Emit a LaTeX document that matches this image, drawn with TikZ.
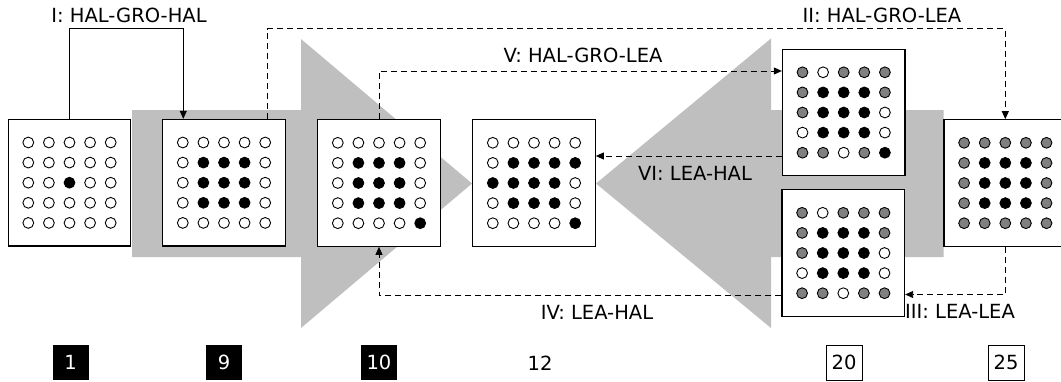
\documentclass[tikz,border=0pt]{standalone}
\usepackage{fontspec}
\setmainfont{DejaVu Sans}
\usetikzlibrary{arrows.meta,calc}
\definecolor{bgarrow}{gray}{0.75}
\definecolor{cW}{gray}{1}
\definecolor{cB}{gray}{0}
\definecolor{cG}{gray}{0.5}
\tikzset{
  gridbox/.style={draw=black, line width=1.2pt, fill=white, minimum width=122.5pt, minimum height=126.5pt, inner sep=0pt},
  link/.style={line width=0.9pt, -{Triangle[length=8pt,width=7pt]}},
  dlink/.style={link, dash pattern=on 6pt off 4pt},
  lab/.style={anchor=base, inner sep=0pt, font=\fontsize{19.5}{23}\selectfont},
  numbase/.style={minimum width=36pt, minimum height=35pt, inner sep=0pt, font=\fontsize{19.5}{23}\selectfont},
  numdark/.style={numbase, fill=black, text=white},
  numlight/.style={numbase, draw=black, line width=1pt, fill=white},
  dotc/.style={draw=black, line width=0.9pt},
}
\newcommand\dotgrid[2]{%
  \foreach \c [count=\i from 0] in {#2} {
    \pgfmathtruncatemacro\col{mod(\i,5)}
    \pgfmathtruncatemacro\row{int(\i/5)}
    \filldraw[dotc, fill=c\c] ($(#1.center)+(\col*20.6-41.2, \row*20.1-40.2)$) circle[radius=5.4pt];
  }}
\begin{document}
\begin{tikzpicture}[x=1pt,y=-1pt]
\useasboundingbox (0,0) rectangle (1061,381);
% big background arrows
\fill[bgarrow] (132,110) -- (301,110) -- (301,39) -- (472,183.5) -- (301,328) -- (301,257) -- (132,257) -- cycle;
\fill[bgarrow] (943.5,110) -- (771,110) -- (771,38.5) -- (596,183.5) -- (771,328) -- (771,257) -- (943.5,257) -- cycle;
% grid boxes
\node[gridbox] (b1) at (69.5,182.7) {};
\node[gridbox] (b2) at (224,182.7) {};
\node[gridbox] (b3) at (379,183) {};
\node[gridbox] (b4) at (534,183) {};
\node[gridbox] (b5) at (843.7,112.5) {};
\node[gridbox] (b6) at (843.3,253) {};
\node[gridbox] (b7) at (1005.3,183) {};
\dotgrid{b1}{W,W,W,W,W, W,W,W,W,W, W,W,B,W,W, W,W,W,W,W, W,W,W,W,W}
\dotgrid{b2}{W,W,W,W,W, W,B,B,B,W, W,B,B,B,W, W,B,B,B,W, W,W,W,W,W}
\dotgrid{b3}{W,W,W,W,W, W,B,B,B,W, W,B,B,B,W, W,B,B,B,W, W,W,W,W,B}
\dotgrid{b4}{W,W,W,W,W, W,B,B,B,B, B,B,B,B,W, W,B,B,B,W, W,W,W,W,B}
\dotgrid{b5}{G,W,G,G,G, G,B,B,B,G, G,B,B,B,W, W,B,B,B,W, G,G,W,G,B}
\dotgrid{b6}{G,W,G,G,G, G,B,B,B,G, G,B,B,B,W, W,B,B,B,W, G,G,W,G,G}
\dotgrid{b7}{G,G,G,G,G, G,B,B,B,G, G,B,B,B,G, G,B,B,B,G, G,G,G,G,G}
% helper coordinates
\coordinate (yI) at (0,28.5);
\coordinate (yV) at (0,71);
\coordinate (yVI) at (0,156);
\coordinate (yIV) at (0,295.5);
\coordinate (yIII) at (0,294.5);
\coordinate (b2a) at ([xshift=43.7pt]b2.north);
\coordinate (b2b) at ([xshift=-40.7pt]b2.north);
% connectors
\draw[link] (b1.north) -- (b1.north |- yI) -| (b2b);
\draw[dlink] (b2a) -- (b2a |- yI) -| (b7.north);
\draw[dlink] (b3.north) -- (b3.north |- yV) -- (b5.west |- yV);
\draw[dlink] (b5.west |- yVI) -- (b4.east |- yVI);
\draw[dlink] (b6.west |- yIV) -| (b3.south);
\draw[dlink] (b7.south) |- (b6.east |- yIII);
% labels
\node[lab] (lI) at (129,22) {I: HAL-GRO-HAL};
\node[lab] (lII) at (882,22) {II: HAL-GRO-LEA};
\node[lab] (lV) at (583,62) {V: HAL-GRO-LEA};
\node[lab] (lVI) at (695,180) {VI: LEA-HAL};
\node[lab] (lIV) at (597,319) {IV: LEA-HAL};
\node[lab, anchor=base west] (lIII) at (905,318) {III: LEA-LEA};
% bottom numbers
\node[numdark] (n1) at (70.5,362.5) {1};
\node[numdark] (n9) at (224,362.5) {9};
\node[numdark] (n10) at (379,362.5) {10};
\node[lab] (n12) at (540,370) {12};
\node[numlight] (n20) at (844,362.5) {20};
\node[numlight] (n25) at (1006,362.5) {25};
\end{tikzpicture}
\end{document}
